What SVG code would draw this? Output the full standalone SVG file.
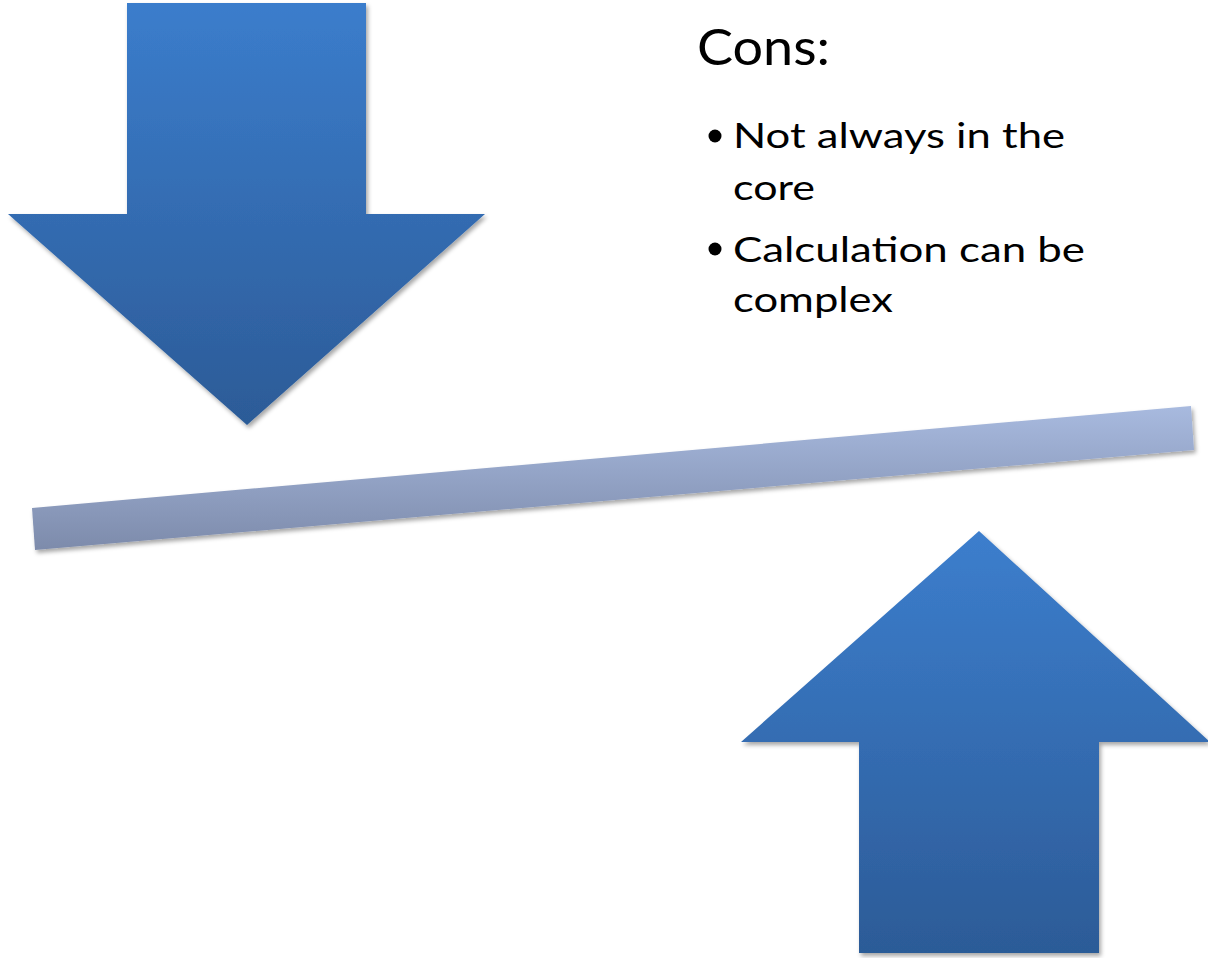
<svg xmlns="http://www.w3.org/2000/svg" width="1208" height="958" viewBox="0 0 1208 958">
<defs>
<linearGradient id="gDown" gradientUnits="userSpaceOnUse" x1="0" y1="3" x2="0" y2="425">
<stop offset="0" stop-color="#3b7dcc"/><stop offset="1" stop-color="#2c5b97"/>
</linearGradient>
<linearGradient id="gUp" gradientUnits="userSpaceOnUse" x1="0" y1="531" x2="0" y2="953">
<stop offset="0" stop-color="#3c7ecd"/><stop offset="1" stop-color="#2c5b97"/>
</linearGradient>
<linearGradient id="gBar" gradientUnits="userSpaceOnUse" x1="0" y1="406" x2="0" y2="550">
<stop offset="0" stop-color="#a8badf"/><stop offset="1" stop-color="#7d8bab"/>
</linearGradient>
<filter id="sh" x="-10%" y="-10%" width="120%" height="130%">
<feDropShadow dx="2" dy="3" stdDeviation="2" flood-color="#000" flood-opacity="0.35"/>
</filter>
<style>
.t{font-family:Lato,"Open Sans",sans-serif;fill:#000}
.h{font-size:51px}
.b{font-size:35px}
</style>
</defs>
<rect width="1208" height="958" fill="#fff"/>
<g id="arrow-down" filter="url(#sh)">
<polygon points="127,3 366,3 366,214 485,214 247,425 8,214 127,214" fill="url(#gDown)"/>
</g>
<g id="balance-bar" filter="url(#sh)">
<polygon points="32,508 1191,406 1194,450 35,550" fill="url(#gBar)"/>
</g>
<g id="arrow-up" filter="url(#sh)">
<polygon points="979,531 1210,742 1099,742 1099,953 859,953 859,742 741,742" fill="url(#gUp)"/>
</g>
<g id="cons-text">
<text class="t h" x="697" y="65" textLength="133" lengthAdjust="spacingAndGlyphs">Cons:</text>
<circle cx="715" cy="136" r="6.5" fill="#000"/>
<text class="t b" x="733" y="148" textLength="332" lengthAdjust="spacingAndGlyphs">Not always in the</text>
<text class="t b" x="733" y="200" textLength="82" lengthAdjust="spacingAndGlyphs">core</text>
<circle cx="715" cy="249" r="6.5" fill="#000"/>
<text class="t b" x="733" y="262" textLength="352" lengthAdjust="spacingAndGlyphs">Calculation can be</text>
<text class="t b" x="733" y="312" textLength="160" lengthAdjust="spacingAndGlyphs">complex</text>
</g>
</svg>
